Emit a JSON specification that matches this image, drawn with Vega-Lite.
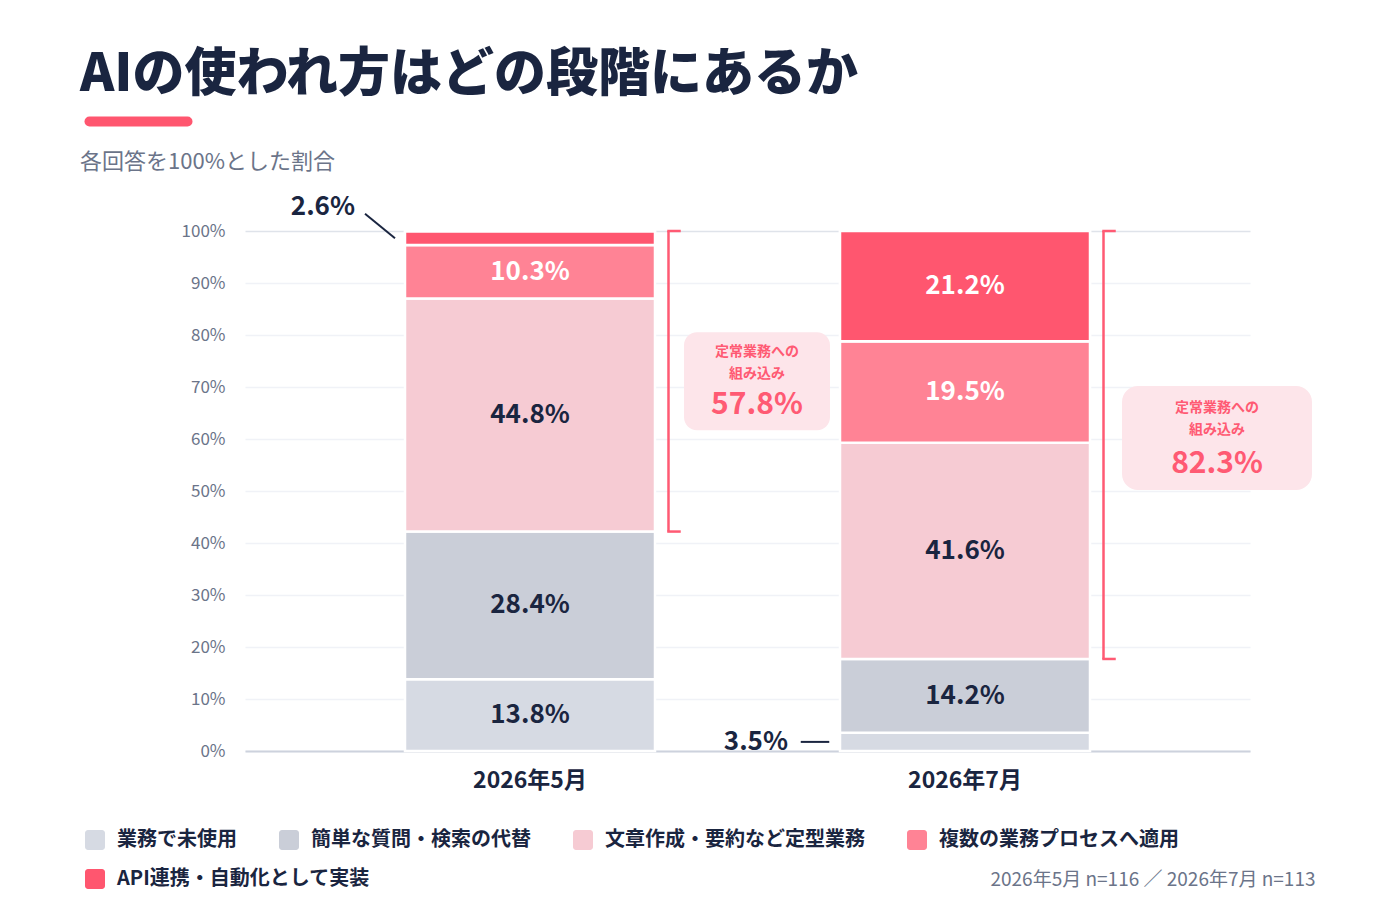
{
  "$schema": "https://vega.github.io/schema/vega-lite/v6.json",
  "background": "#ffffff",
  "padding": {"left": 80, "top": 48, "right": 10, "bottom": 0},
  "autosize": {"type": "pad"},
  "spacing": 29,
  "datasets": {
    "shares": [
      {"period": "2026年5月", "category": "業務で未使用", "value": 13.8, "rank": 1},
      {"period": "2026年5月", "category": "簡単な質問・検索の代替", "value": 28.4, "rank": 2},
      {"period": "2026年5月", "category": "文章作成・要約など定型業務", "value": 44.8, "rank": 3},
      {"period": "2026年5月", "category": "複数の業務プロセスへ適用", "value": 10.3, "rank": 4},
      {"period": "2026年5月", "category": "API連携・自動化として実装", "value": 2.6, "rank": 5},
      {"period": "2026年7月", "category": "業務で未使用", "value": 3.5, "rank": 1},
      {"period": "2026年7月", "category": "簡単な質問・検索の代替", "value": 14.2, "rank": 2},
      {"period": "2026年7月", "category": "文章作成・要約など定型業務", "value": 41.6, "rank": 3},
      {"period": "2026年7月", "category": "複数の業務プロセスへ適用", "value": 19.5, "rank": 4},
      {"period": "2026年7月", "category": "API連携・自動化として実装", "value": 21.2, "rank": 5}
    ],
    "routine": [
      {"period": "2026年5月", "top": 100, "bottom": 42.2, "label": "57.8%"},
      {"period": "2026年7月", "top": 100, "bottom": 17.7, "label": "82.3%"}
    ]
  },
  "vconcat": [
    {
      "width": 98,
      "height": 5,
      "title": {
        "text": "AIの使われ方はどの段階にあるか",
        "anchor": "start",
        "frame": "group",
        "dx": -165,
        "fontSize": 52,
        "fontWeight": 900,
        "color": "#1a2540",
        "baseline": "alphabetic",
        "offset": -27
      },
      "data": {"values": [{"part": "accent"}]},
      "mark": {"type": "point", "opacity": 0},
      "encoding": {
        "x": {
          "datum": 0,
          "type": "quantitative",
          "scale": {"domain": [0, 1]},
          "axis": {
            "orient": "bottom",
            "position": -156,
            "domain": true,
            "domainColor": "#ff566f",
            "domainWidth": 10,
            "domainCap": "round",
            "labels": false,
            "ticks": false,
            "grid": false,
            "title": null
          }
        }
      }
    },
    {
      "width": 1005,
      "height": 520,
      "title": {
        "text": "各回答を100%とした割合",
        "anchor": "start",
        "frame": "group",
        "dx": -165,
        "fontSize": 22,
        "fontWeight": "normal",
        "color": "#6b7489",
        "baseline": "alphabetic",
        "offset": 3
      },
      "layer": [
        {
          "data": {"name": "shares"},
          "transform": [
            {"stack": "value", "groupby": ["period"], "sort": [{"field": "rank", "order": "ascending"}], "as": ["y0", "y1"]},
            {"calculate": "(datum.y0 + datum.y1) / 2", "as": "mid"},
            {"calculate": "format(datum.value, '.1f') + '%'", "as": "pct"}
          ],
          "layer": [
            {
              "mark": {"type": "bar", "stroke": "#ffffff", "strokeWidth": 2.5},
              "encoding": {
                "x": {
                  "field": "period",
                  "type": "nominal",
                  "scale": {"paddingInner": 0.4253, "paddingOuter": 0.3678},
                  "axis": {
                    "title": "2026年5月 n=116 ／ 2026年7月 n=113",
                    "titleX": 1070,
                    "titleY": 128,
                    "titleAlign": "right",
                    "titleBaseline": "middle",
                    "titleFontSize": 19,
                    "titleFontWeight": "normal",
                    "titleColor": "#6b7489",
                    "labelAngle": 0,
                    "labelFontSize": 23,
                    "labelFontWeight": "bold",
                    "labelColor": "#1a2540",
                    "labelPadding": 18,
                    "ticks": false,
                    "domainColor": "#cdd2dd",
                    "domainWidth": 2
                  }
                },
                "y": {
                  "field": "y0",
                  "type": "quantitative",
                  "scale": {"domain": [0, 100], "nice": false},
                  "axis": {
                    "title": null,
                    "values": [0, 10, 20, 30, 40, 50, 60, 70, 80, 90, 100],
                    "labelExpr": "datum.value + '%'",
                    "labelFontSize": 17,
                    "labelColor": "#6b7489",
                    "labelPadding": 20,
                    "domain": false,
                    "ticks": false,
                    "grid": true,
                    "gridWidth": 1.5,
                    "gridColor": {"condition": {"test": "datum.value === 100", "value": "#dfe3ea"}, "value": "#f0f2f7"}
                  }
                },
                "y2": {"field": "y1"},
                "color": {
                  "field": "category",
                  "type": "nominal",
                  "scale": {
                    "domain": ["業務で未使用", "簡単な質問・検索の代替", "文章作成・要約など定型業務", "複数の業務プロセスへ適用", "API連携・自動化として実装"],
                    "range": ["#d6dae3", "#caced8", "#f6cbd3", "#ff8395", "#ff566f"]
                  },
                  "legend": {
                    "title": null,
                    "values": ["業務で未使用", "簡単な質問・検索の代替", "文章作成・要約など定型業務", "複数の業務プロセスへ適用"],
                    "orient": "none",
                    "legendX": -160,
                    "legendY": 714,
                    "direction": "horizontal",
                    "columns": 4,
                    "columnPadding": 42,
                    "symbolType": "M -0.7 -1 L 0.7 -1 A 0.3 0.3 0 0 1 1 -0.7 L 1 0.7 A 0.3 0.3 0 0 1 0.7 1 L -0.7 1 A 0.3 0.3 0 0 1 -1 0.7 L -1 -0.7 A 0.3 0.3 0 0 1 -0.7 -1 Z",
                    "symbolSize": 400,
                    "symbolStrokeWidth": 0,
                    "symbolOpacity": 1,
                    "labelFontSize": 20,
                    "labelFontWeight": "bold",
                    "labelColor": "#1a2540",
                    "labelOffset": 12,
                    "labelLimit": 400
                  }
                }
              }
            },
            {
              "transform": [{"filter": "datum.rank === 5"}],
              "mark": {"type": "bar", "stroke": "#ffffff", "strokeWidth": 2.5},
              "encoding": {
                "x": {"field": "period", "type": "nominal"},
                "y": {"field": "y0", "type": "quantitative"},
                "y2": {"field": "y1"},
                "fill": {
                  "field": "category",
                  "type": "nominal",
                  "scale": {"domain": ["API連携・自動化として実装"], "range": ["#ff566f"]},
                  "legend": {
                    "title": null,
                    "orient": "none",
                    "legendX": -160,
                    "legendY": 753,
                    "direction": "horizontal",
                    "symbolType": "M -0.7 -1 L 0.7 -1 A 0.3 0.3 0 0 1 1 -0.7 L 1 0.7 A 0.3 0.3 0 0 1 0.7 1 L -0.7 1 A 0.3 0.3 0 0 1 -1 0.7 L -1 -0.7 A 0.3 0.3 0 0 1 -0.7 -1 Z",
                    "symbolSize": 400,
                    "symbolStrokeWidth": 0,
                    "symbolOpacity": 1,
                    "labelFontSize": 20,
                    "labelFontWeight": "bold",
                    "labelColor": "#1a2540",
                    "labelOffset": 12,
                    "labelLimit": 400
                  }
                }
              }
            },
            {
              "transform": [{"filter": "datum.value >= 5"}],
              "mark": {"type": "text", "fontSize": 26, "fontWeight": "bold"},
              "encoding": {
                "x": {"field": "period", "type": "nominal"},
                "y": {"field": "mid", "type": "quantitative"},
                "text": {"field": "pct"},
                "color": {"condition": {"test": "datum.rank >= 4", "value": "#ffffff"}, "value": "#1a2540"}
              }
            },
            {
              "transform": [{"filter": "datum.value < 5 && datum.period === '2026年5月'"}],
              "mark": {"type": "text", "align": "right", "dy": -31, "fontSize": 26, "fontWeight": "bold", "color": "#1a2540"},
              "encoding": {
                "x": {"field": "period", "type": "nominal", "bandPosition": -0.2},
                "y": {"field": "mid", "type": "quantitative"},
                "text": {"field": "pct"}
              }
            },
            {
              "transform": [
                {"filter": "datum.value < 5 && datum.period === '2026年5月'"},
                {"calculate": "datum.mid + 4.7", "as": "lead"}
              ],
              "mark": {"type": "rule", "color": "#1a2540", "strokeWidth": 2},
              "encoding": {
                "x": {"field": "period", "type": "nominal", "bandPosition": -0.04},
                "x2": {"field": "period", "bandPosition": -0.16},
                "y": {"field": "mid", "type": "quantitative"},
                "y2": {"field": "lead"}
              }
            },
            {
              "transform": [{"filter": "datum.value < 5 && datum.period === '2026年7月'"}],
              "mark": {"type": "text", "align": "right", "fontSize": 26, "fontWeight": "bold", "color": "#1a2540"},
              "encoding": {
                "x": {"field": "period", "type": "nominal", "bandPosition": -0.208},
                "y": {"field": "mid", "type": "quantitative"},
                "text": {"field": "pct"}
              }
            },
            {
              "transform": [{"filter": "datum.value < 5 && datum.period === '2026年7月'"}],
              "mark": {"type": "rule", "color": "#1a2540", "strokeWidth": 2},
              "encoding": {
                "x": {"field": "period", "type": "nominal", "bandPosition": -0.043},
                "x2": {"field": "period", "bandPosition": -0.157},
                "y": {"field": "mid", "type": "quantitative"}
              }
            }
          ]
        },
        {
          "data": {"name": "routine"},
          "layer": [
            {
              "mark": {"type": "rule", "color": "#ff5a73", "strokeWidth": 2.5},
              "encoding": {
                "x": {"field": "period", "type": "nominal", "bandPosition": 1.054},
                "y": {"field": "top", "type": "quantitative"},
                "y2": {"field": "bottom"}
              }
            },
            {
              "mark": {"type": "rule", "color": "#ff5a73", "strokeWidth": 2.5},
              "encoding": {
                "x": {"field": "period", "type": "nominal", "bandPosition": 1.049},
                "x2": {"field": "period", "bandPosition": 1.103},
                "y": {"field": "top", "type": "quantitative"}
              }
            },
            {
              "mark": {"type": "rule", "color": "#ff5a73", "strokeWidth": 2.5},
              "encoding": {
                "x": {"field": "period", "type": "nominal", "bandPosition": 1.049},
                "x2": {"field": "period", "bandPosition": 1.103},
                "y": {"field": "bottom", "type": "quantitative"}
              }
            }
          ]
        },
        {
          "data": {"name": "routine"},
          "transform": [
            {"filter": "datum.period === '2026年5月'"},
            {"calculate": "(datum.top + datum.bottom) / 2", "as": "mid"}
          ],
          "layer": [
            {
              "mark": {
                "type": "point",
                "filled": true,
                "opacity": 1,
                "strokeWidth": 0,
                "color": "#fde5ea",
                "size": 21316,
                "shape": "M -0.822 -0.671 L 0.822 -0.671 A 0.178 0.178 0 0 1 1 -0.493 L 1 0.493 A 0.178 0.178 0 0 1 0.822 0.671 L -0.822 0.671 A 0.178 0.178 0 0 1 -1 0.493 L -1 -0.493 A 0.178 0.178 0 0 1 -0.822 -0.671 Z"
              },
              "encoding": {
                "x": {"field": "period", "type": "nominal", "bandPosition": 1.408},
                "y": {"field": "mid", "type": "quantitative"}
              }
            },
            {
              "mark": {"type": "text", "text": "定常業務への", "fontSize": 14, "fontWeight": "bold", "color": "#ff5a73", "dy": -29},
              "encoding": {
                "x": {"field": "period", "type": "nominal", "bandPosition": 1.408},
                "y": {"field": "mid", "type": "quantitative"}
              }
            },
            {
              "mark": {"type": "text", "text": "組み込み", "fontSize": 14, "fontWeight": "bold", "color": "#ff5a73", "dy": -7},
              "encoding": {
                "x": {"field": "period", "type": "nominal", "bandPosition": 1.408},
                "y": {"field": "mid", "type": "quantitative"}
              }
            },
            {
              "mark": {"type": "text", "fontSize": 30, "fontWeight": "bold", "color": "#ff5a73", "dy": 24},
              "encoding": {
                "x": {"field": "period", "type": "nominal", "bandPosition": 1.408},
                "y": {"field": "mid", "type": "quantitative"},
                "text": {"field": "label"}
              }
            }
          ]
        },
        {
          "data": {"name": "routine"},
          "transform": [
            {"filter": "datum.period === '2026年7月'"},
            {"calculate": "(datum.top + datum.bottom) / 2", "as": "mid"}
          ],
          "layer": [
            {
              "mark": {
                "type": "point",
                "filled": true,
                "opacity": 1,
                "strokeWidth": 0,
                "color": "#fde5ea",
                "size": 36100,
                "shape": "M -0.832 -0.621 L 0.832 -0.621 A 0.168 0.168 0 0 1 1 -0.453 L 1 0.305 A 0.168 0.168 0 0 1 0.832 0.473 L -0.832 0.473 A 0.168 0.168 0 0 1 -1 0.305 L -1 -0.453 A 0.168 0.168 0 0 1 -0.832 -0.621 Z"
              },
              "encoding": {
                "x": {"field": "period", "type": "nominal", "bandPosition": 1.508},
                "y": {"field": "mid", "type": "quantitative"}
              }
            },
            {
              "mark": {"type": "text", "text": "定常業務への", "fontSize": 14, "fontWeight": "bold", "color": "#ff5a73", "dy": -37},
              "encoding": {
                "x": {"field": "period", "type": "nominal", "bandPosition": 1.508},
                "y": {"field": "mid", "type": "quantitative"}
              }
            },
            {
              "mark": {"type": "text", "text": "組み込み", "fontSize": 14, "fontWeight": "bold", "color": "#ff5a73", "dy": -15},
              "encoding": {
                "x": {"field": "period", "type": "nominal", "bandPosition": 1.508},
                "y": {"field": "mid", "type": "quantitative"}
              }
            },
            {
              "mark": {"type": "text", "fontSize": 30, "fontWeight": "bold", "color": "#ff5a73", "dy": 19},
              "encoding": {
                "x": {"field": "period", "type": "nominal", "bandPosition": 1.508},
                "y": {"field": "mid", "type": "quantitative"},
                "text": {"field": "label"}
              }
            }
          ]
        }
      ]
    }
  ],
  "config": {
    "font": "Noto Sans CJK JP",
    "view": {"stroke": null}
  }
}
